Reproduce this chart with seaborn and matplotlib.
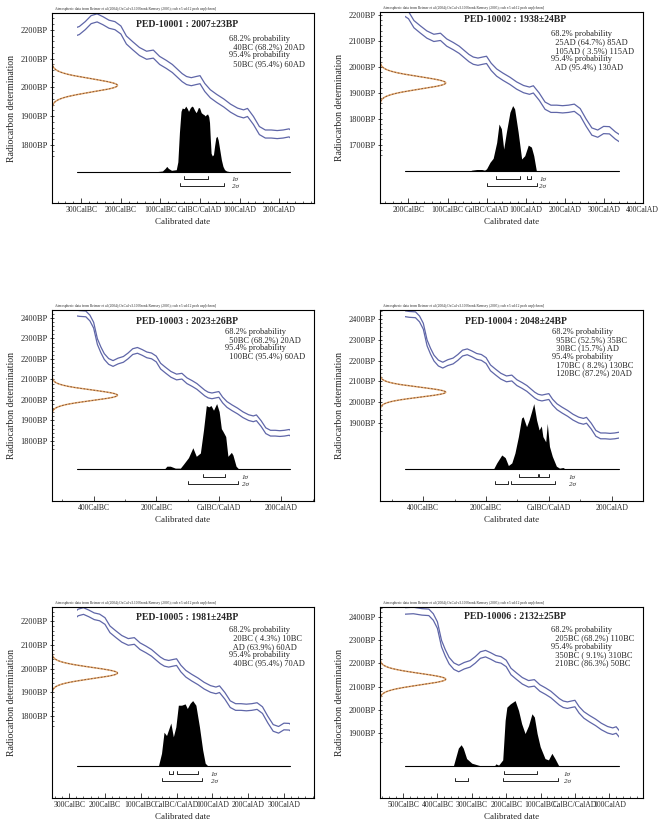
"""OxCal calibration plots for six PED samples."""

import matplotlib
matplotlib.use("Agg")
import matplotlib.pyplot as plt
from matplotlib.patches import Rectangle
from matplotlib.ticker import FixedLocator, MultipleLocator, FuncFormatter
import numpy as np
import pandas as pd
import seaborn as sns

sns.set_style("white")
plt.rcParams['font.family'] = ['Liberation Serif', 'DejaVu Serif']

# calibration curve (cal year, BP)
cal_years = [-495, -470, -445, -425, -412, -400, -388, -377, -366, -352,
             -338, -322, -305, -290, -275, -260, -245, -230, -215, -200,
             -186, -170, -153, -135, -118, -102, -85, -70, -56, -45,
             -34, -22, -10, 0, 12, 26, 42, 60, 77, 95,
             110, 120, 135, 150, 165, 180, 195, 210, 225, 240,
             255, 270, 285, 300, 315, 330, 345, 360]
cal_bp = [2426, 2428, 2422, 2420, 2400, 2365, 2285, 2245, 2212, 2188,
          2178, 2190, 2198, 2215, 2236, 2242, 2232, 2220, 2215, 2200,
          2165, 2145, 2125, 2112, 2116, 2094, 2080, 2066, 2048, 2034,
          2024, 2020, 2024, 2027, 2000, 1978, 1962, 1946, 1928, 1914,
          1908, 1913, 1885, 1850, 1838, 1838, 1836, 1838, 1842, 1825,
          1785, 1750, 1742, 1756, 1755, 1735, 1720, 1712]
cal_err = 14

sample_ids = ['PED-10001', 'PED-10002', 'PED-10003',
              'PED-10004', 'PED-10005', 'PED-10006']
bp_means = [2007, 1938, 2023, 2048, 1981, 2132]
bp_errs = [23, 24, 26, 24, 24, 25]

# posterior distributions (cal year, relative probability)
hist_years_1 = [-110, -95, -88, -84, -80, -72, -60, -56, -52, -48, -45, -40,
                -36, -32, -29, -25, -21, -18, -14, -10, -8, -4, -1, 3, 7,
                10, 13, 16, 19, 22, 24, 26, 28, 31, 34, 37, 40, 43, 46, 50,
                54, 58, 62, 67, 75]
hist_prob_1 = [0, 0.01, 0.05, 0.08, 0.05, 0.02, 0.03, 0.15, 0.6, 0.92, 0.97,
               0.96, 1.0, 0.96, 0.92, 0.97, 1.0, 0.99, 0.94, 0.9, 0.92, 0.98,
               0.97, 0.9, 0.88, 0.87, 0.85, 0.87, 0.88, 0.84, 0.75, 0.5,
               0.28, 0.24, 0.26, 0.4, 0.52, 0.54, 0.48, 0.33, 0.18, 0.08,
               0.03, 0.01, 0]

hist_years_2 = [-45, -38, -25, -12, -5, 0, 9, 17, 26, 32, 38, 44, 51, 60,
                67, 72, 81, 90, 98, 107, 115, 121, 128]
hist_prob_2 = [0, 0.02, 0.03, 0.03, 0.02, 0.04, 0.14, 0.2, 0.44, 0.72, 0.65,
               0.34, 0.6, 0.9, 1.0, 0.95, 0.6, 0.19, 0.24, 0.4, 0.37, 0.24, 0]

hist_years_3 = [-175, -166, -155, -139, -123, -113, -97, -83, -72, -59, -49,
                -40, -32, -25, -17, -7, 1, 8, 13, 22, 29, 40, 45, 55, 65]
hist_prob_3 = [0, 0.05, 0.05, 0.02, 0.02, 0.08, 0.18, 0.33, 0.2, 0.25, 0.6,
               0.97, 0.95, 0.97, 0.9, 1.0, 0.88, 0.62, 0.58, 0.5, 0.2, 0.26,
               0.22, 0.05, 0]

hist_years_4 = [-177, -166, -150, -139, -129, -118, -108, -97, -87, -82, -71,
                -63, -55, -48, -39, -31, -24, -19, -10, -5, 2, 11, 24, 34, 45,
                55]
hist_prob_4 = [0, 0.1, 0.22, 0.18, 0.06, 0.1, 0.25, 0.5, 0.78, 0.8, 0.65,
               0.75, 0.88, 1.0, 0.75, 0.6, 0.66, 0.5, 0.42, 0.7, 0.35, 0.2,
               0.05, 0.02, 0.03, 0]

hist_years_5 = [-51, -42, -35, -28, -21, -16, -9, -2, 5, 14, 24, 30, 38, 45,
                54, 64, 73, 80, 89]
hist_prob_5 = [0, 0.2, 0.52, 0.47, 0.58, 0.66, 0.45, 0.6, 0.93, 0.93, 0.95,
               0.88, 0.96, 1.0, 0.93, 0.6, 0.25, 0.05, 0]

hist_years_6 = [-354, -346, -339, -331, -325, -315, -300, -281, -266, -235,
                -230, -222, -210, -203, -198, -188, -174, -164, -155, -145,
                -135, -125, -118, -110, -101, -87, -77, -67, -58, -48, -43]
hist_prob_6 = [0, 0.15, 0.28, 0.33, 0.28, 0.12, 0.05, 0.02, 0, 0, 0.04, 0.02,
               0.1, 0.7, 0.9, 0.95, 1.0, 0.85, 0.65, 0.5, 0.62, 0.8, 0.75,
               0.5, 0.3, 0.12, 0.1, 0.2, 0.12, 0.02, 0]

hist_years = [hist_years_1, hist_years_2, hist_years_3,
              hist_years_4, hist_years_5, hist_years_6]
hist_probs = [hist_prob_1, hist_prob_2, hist_prob_3,
              hist_prob_4, hist_prob_5, hist_prob_6]

# 1 sigma / 2 sigma ranges (cal year)
sigma1 = [[(-40, 20)], [(25, 85), (105, 115)], [(-50, 20)],
          [(-95, -35), (-30, 1)], [(-20, -10), (1, 60)], [(-205, -110)]]
sigma2 = [[(-50, 60)], [(1, 130)], [(-100, 60)],
          [(-170, -130), (-120, 20)], [(-40, 70)],
          [(-350, -310), (-210, -50)]]

prob_texts = [
    ["68.2% probability", "  40BC (68.2%) 20AD",
     "95.4% probability", "  50BC (95.4%) 60AD"],
    ["68.2% probability", "  25AD (64.7%) 85AD", "  105AD ( 3.5%) 115AD",
     "95.4% probability", "  AD (95.4%) 130AD"],
    ["68.2% probability", "  50BC (68.2%) 20AD",
     "95.4% probability", "  100BC (95.4%) 60AD"],
    ["68.2% probability", "  95BC (52.5%) 35BC", "  30BC (15.7%) AD",
     "95.4% probability", "  170BC ( 8.2%) 130BC", "  120BC (87.2%) 20AD"],
    ["68.2% probability", "  20BC ( 4.3%) 10BC", "  AD (63.9%) 60AD",
     "95.4% probability", "  40BC (95.4%) 70AD"],
    ["68.2% probability", "  205BC (68.2%) 110BC",
     "95.4% probability", "  350BC ( 9.1%) 310BC", "  210BC (86.3%) 50BC"],
]

y_tick_bp = [[1800, 1900, 2000, 2100, 2200],
             [1700, 1800, 1900, 2000, 2100, 2200],
             [1800, 1900, 2000, 2100, 2200, 2300, 2400],
             [1900, 2000, 2100, 2200, 2300, 2400],
             [1800, 1900, 2000, 2100, 2200],
             [1900, 2000, 2100, 2200, 2300, 2400]]

header = ("Atmospheric data from Reimer et al (2004);OxCal v3.10 "
          "Bronk Ramsey (2005); cub r:5 sd:12 prob usp[chron]")

# layout (pixel boxes on a 659x827 canvas) and axis ranges
boxes = [(52, 13, 314, 203), (380, 12, 643, 203),
         (52, 310, 314, 501), (380, 310, 643, 501),
         (52, 607, 314, 798), (380, 607, 643, 798)]
xlims = [(-374, 288), (-273, 401), (-533, 304),
         (-538, 300), (-348, 384), (-567, 198)]
ylims = [(1598, 2259), (1474, 2212), (1507, 2439),
         (1525, 2443), (1455, 2259), (1620, 2443)]
x_major = [100, 100, 200, 200, 100, 100]
x_minor = [20, 20, 100, 100, 20, 20]
title_y = [0.937, 0.962, 0.939, 0.939, 0.946, 0.95]
prob_top = [0.885, 0.905, 0.907, 0.907, 0.90, 0.90]

CURVE = '#5f66a8'
BASE = 0.165
HIST_H = 0.345
S1_Y, S2_Y = 0.125, 0.088
SPAN = (0.095, 0.907)


def cal_label(v, pos):
    v = int(round(v))
    if v < 0:
        return f"{-v}CalBC"
    if v == 0:
        return "CalBC/CalAD"
    return f"{v}CalAD"


def draw_bracket(ax, a, b, y):
    ax.plot([a, a, b, b], [y + 0.016, y, y, y + 0.016], color='black',
            lw=0.6, transform=ax.get_xaxis_transform(), clip_on=False)


W, H = 659, 827
fig = plt.figure(figsize=(W / 100, H / 100), dpi=100)
fig.patch.set_facecolor('white')

curve = pd.DataFrame({'year': cal_years,
                      'upper': np.add(cal_bp, cal_err),
                      'lower': np.subtract(cal_bp, cal_err)})

for i in range(6):
    x0, y0, x1, y1 = boxes[i]
    ax = fig.add_axes([x0 / W, 1 - y1 / H, (x1 - x0) / W, (y1 - y0) / H])

    # calibration curve, drawn over the usual OxCal span only
    for col in ['upper', 'lower']:
        sns.lineplot(data=curve, x='year', y=col, ax=ax, color=CURVE,
                     lw=0.9, sort=True)
        clip = Rectangle((SPAN[0], 0), SPAN[1] - SPAN[0], 1,
                         transform=ax.transAxes)
        ax.lines[-1].set_clip_path(clip)

    # radiocarbon date on the y axis
    m, s = bp_means[i], bp_errs[i]
    bp = np.linspace(m - 4 * s, m + 4 * s, 200)
    g = np.exp(-0.5 * ((bp - m) / s) ** 2)
    ax.plot(0.25 * g, bp, color='#e3a86a', lw=1.1,
            transform=ax.get_yaxis_transform())
    ax.plot(0.25 * g, bp, color='#7a4b35', lw=0.6, dashes=(2, 2),
            transform=ax.get_yaxis_transform())

    # calibrated distribution
    hy = np.array(hist_years[i])
    hp = np.array(hist_probs[i]) / max(hist_probs[i])
    ax.fill_between(hy, BASE, BASE + HIST_H * hp, color='black', lw=0,
                    transform=ax.get_xaxis_transform())
    ax.plot(SPAN, [BASE, BASE], color='black', lw=0.8,
            transform=ax.transAxes)

    for a, b in sigma1[i]:
        draw_bracket(ax, a, b, S1_Y)
    for a, b in sigma2[i]:
        draw_bracket(ax, a, b, S2_Y)
    x_end = hy[hp > 0].max()
    for lab, yy in [("1σ", S1_Y), ("2σ", S2_Y)]:
        ax.annotate(lab, xy=(x_end, yy), xycoords=ax.get_xaxis_transform(),
                    xytext=(4, 0), textcoords='offset points',
                    fontsize=5, style='italic', va='center', ha='left')

    # texts
    ax.text(0.515, title_y[i], f"{sample_ids[i]} : {m}±{s}BP",
            transform=ax.transAxes, ha='center', va='center',
            fontsize=7, fontweight='bold')
    ax.text(0.965, prob_top[i], "\n".join(prob_texts[i]),
            transform=ax.transAxes, ha='right', va='top',
            multialignment='left', fontsize=6, linespacing=1.05)
    ax.text(0.01, 1.008, header, transform=ax.transAxes, ha='left',
            va='bottom', fontsize=2.6)

    # axes
    ax.set_xlim(*xlims[i])
    ax.set_ylim(*ylims[i])
    ax.xaxis.set_major_locator(MultipleLocator(x_major[i]))
    ax.xaxis.set_minor_locator(MultipleLocator(x_minor[i]))
    ax.xaxis.set_major_formatter(FuncFormatter(cal_label))
    ax.set_yticks(y_tick_bp[i])
    ax.set_yticklabels([f"{v}BP" for v in y_tick_bp[i]])
    ax.yaxis.set_minor_locator(FixedLocator(
        np.arange(min(y_tick_bp[i]) - 40, ylims[i][1], 20)))
    ax.tick_params(axis='x', which='major', direction='in', length=3.5,
                   width=0.6, labelsize=5.5, pad=2, bottom=True)
    ax.tick_params(axis='x', which='minor', direction='in', length=1.8,
                   width=0.5, bottom=True)
    ax.tick_params(axis='y', which='major', direction='inout', length=3,
                   width=0.6, labelsize=6, pad=1.5, left=True)
    ax.tick_params(axis='y', which='minor', direction='in', length=1.5,
                   width=0.5, left=True)
    for sp in ax.spines.values():
        sp.set_color('black')
        sp.set_linewidth(0.8)
    ax.set_xlabel('Calibrated date', fontsize=6.5, labelpad=3)
    ax.set_ylabel('Radiocarbon determination', fontsize=7)
    ax.yaxis.set_label_coords(-0.137, 0.5)

fig.savefig('out.png', dpi=100, facecolor='white')
